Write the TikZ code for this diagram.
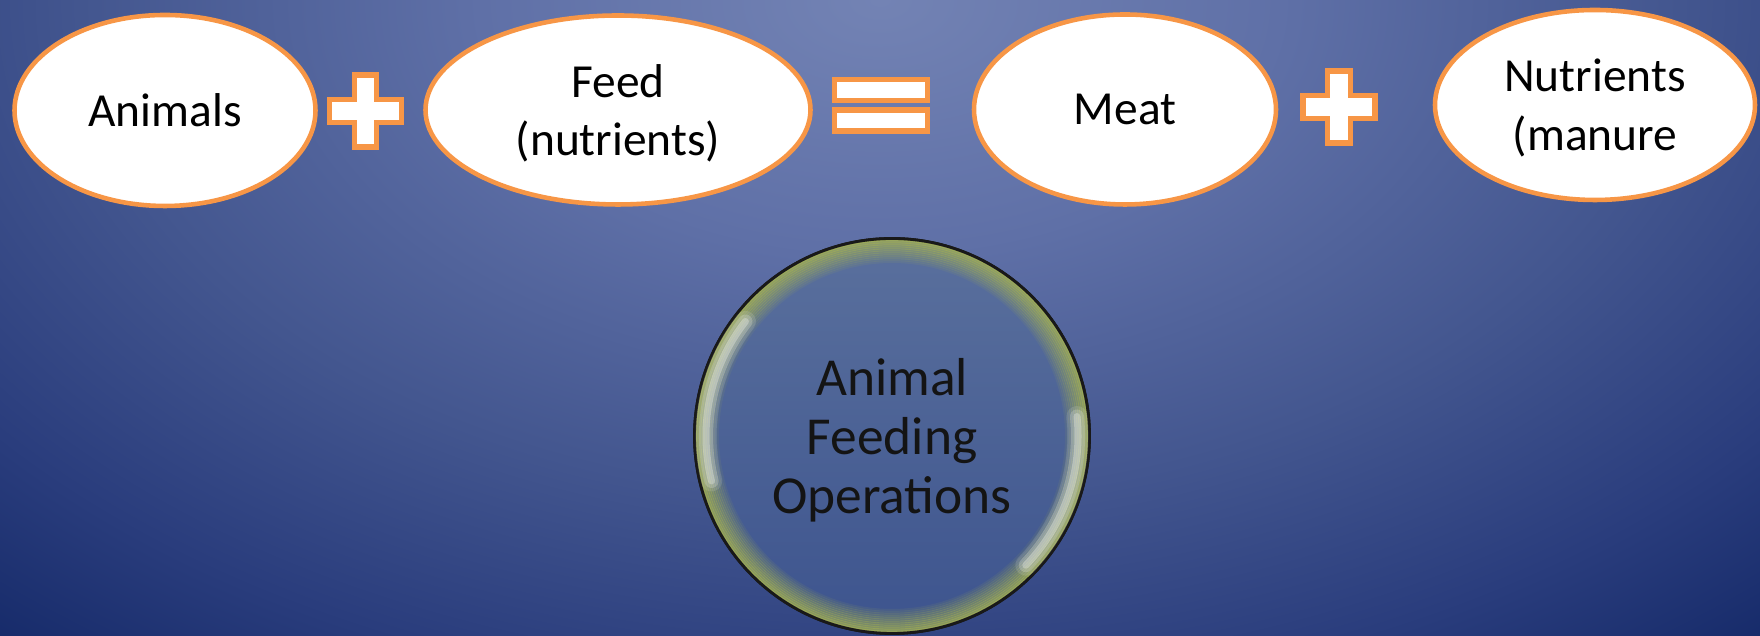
\documentclass[tikz,border=0pt]{standalone}
\usepackage{fontspec}
\setmainfont{Carlito}
\usetikzlibrary{shapes.geometric}

\definecolor{bgtop}{HTML}{7383B4}
\definecolor{bglite}{HTML}{5F70A7}
\definecolor{bgmid}{HTML}{43568F}
\definecolor{bgdusk}{HTML}{2A3D7D}
\definecolor{bgdeep}{HTML}{0F2463}
\definecolor{signorange}{HTML}{F79646}
\definecolor{bubbletop}{HTML}{5A709D}
\definecolor{bubblebot}{HTML}{3D548E}
\definecolor{rimglow}{HTML}{A8B44E}
\definecolor{bubbletext}{HTML}{141414}

\pgfdeclareradialshading{slidebg}{\pgfpoint{0bp}{0bp}}{color(0bp)=(bgtop); color(5bp)=(bglite); color(10bp)=(bgmid); color(14bp)=(bgdusk); color(18bp)=(bgdeep); color(50bp)=(bgdeep)}

\begin{document}
\begin{tikzpicture}[
  term/.style = {ellipse, draw=signorange, line width=1.3pt, fill=white,
    inner sep=0pt, align=center, text depth=0pt, font=\fontsize{13.5}{16.7}\selectfont},
  sign/.style = {draw=signorange, line width=1.5pt, fill=white},
  eqbar/.style = {rectangle, draw=signorange, line width=1.5pt, fill=white,
    minimum width=0.93cm, minimum height=0.21cm, inner sep=0pt},
  bubble/.style = {circle, draw=black!90, line width=0.8pt, top color=bubbletop,
    bottom color=bubblebot, minimum size=3.95cm, inner sep=0pt, align=center,
    text depth=0pt, text=bubbletext, font=\fontsize{15.2}{16.9}\selectfont},
  shine/.style = {white, line cap=round}]

  \useasboundingbox (0,0) rectangle (17.6,6.36);
  % slide background
  \begin{scope}
    \clip (0,0) rectangle (17.6,6.36);
    \shade[shading=slidebg] (8.8,6.36) ellipse (20 and 12.5);
  \end{scope}

  % the equation
  \node[term, minimum width=3.01cm, minimum height=1.91cm] (animals) at (1.65,5.255) {Animals};
  \node[term, minimum width=3.85cm, minimum height=1.89cm] (feed) at (6.18,5.26) {Feed\\(nutrients)};
  \node[term, minimum width=3.02cm, minimum height=1.90cm] (meat) at (11.25,5.265) {Meat};
  \node[term, minimum width=3.20cm, minimum height=1.90cm] (manure) at (15.95,5.31) {Nutrients\\(manure};

  \coordinate (plusA) at (3.655,5.25);
  \coordinate (plusB) at (13.39,5.29);
  \foreach \p in {plusA,plusB}
    \draw[sign, shift={(\p)}] (-0.113,0.36) -- (0.113,0.36) -- (0.113,0.113) -- (0.36,0.113)
      -- (0.36,-0.113) -- (0.113,-0.113) -- (0.113,-0.36) -- (-0.113,-0.36)
      -- (-0.113,-0.113) -- (-0.36,-0.113) -- (-0.36,0.113) -- (-0.113,0.113) -- cycle;

  \node[eqbar] (eqtop) at (8.81,5.46) {};
  \node[eqbar] (eqbot) at (8.81,5.155) {};

  % the bubble
  \node[bubble] (afo) at (8.92,2.0) {Animal\\Feeding\\Operations};
  \foreach \k [evaluate=\k as \op using {0.75-0.06*\k}, evaluate=\k as \rr using {1.962-0.02*\k}] in {0,...,11}
    \draw[rimglow, draw opacity=\op, line width=0.7pt] (afo.center) circle (\rr);
  \draw[black!90, line width=0.8pt] (afo.center) circle (1.975);

  \foreach \w/\o in {6pt/0.12, 4pt/0.2, 2pt/0.28} {
    \draw[shine, line width=\w, opacity=\o] ([shift={(142:1.86)}]afo.center) arc (142:194:1.86);
    \draw[shine, line width=\w, opacity=\o] ([shift={(6:1.86)}]afo.center) arc (6:-44:1.86);
  }
\end{tikzpicture}
\end{document}
